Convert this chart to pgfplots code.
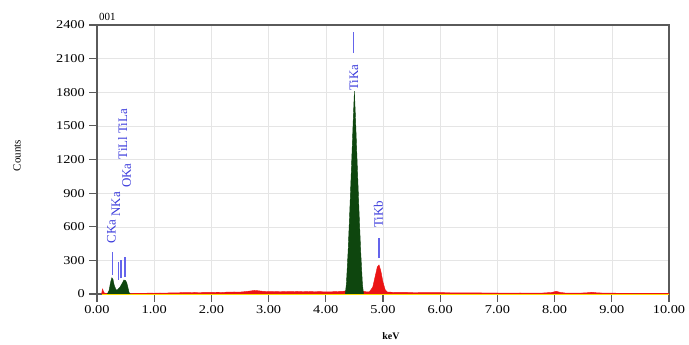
\documentclass[border=0pt]{standalone}
\usepackage{fontspec}
\setmainfont{Liberation Serif}
\usepackage{pgfplots}
\pgfplotsset{compat=1.18}
\definecolor{pkgreen}{RGB}{14,70,14}
\definecolor{bgred}{RGB}{235,20,20}
\definecolor{lblblue}{RGB}{60,60,220}
\definecolor{linblue}{RGB}{100,100,235}
\definecolor{axgray}{RGB}{90,90,90}
\begin{document}
\begin{tikzpicture}
\path[use as bounding box] (-97bp,-51bp) rectangle (592bp,294bp);
\begin{axis}[
  scale only axis, width=572bp, height=269bp,
  xmin=0, xmax=10, ymin=0, ymax=2400,
  xtick={0,1,...,10}, ytick={0,300,...,2400},
  xticklabels={0.00,1.00,2.00,3.00,4.00,5.00,6.00,7.00,8.00,9.00,10.00},
  /pgf/number format/assume math mode=true,
  /pgf/number format/.cd, 1000 sep={}, /pgfplots/.cd,
  tick label style={font=\fontsize{12}{14}\selectfont, xscale=1.2},
  grid=major, grid style={color=black!10, line width=0.5pt},
  tick style={color=axgray, line width=1.2pt},
  tick align=outside, major tick length=8bp,
  xtick pos=bottom, ytick pos=left,
  axis line style={color=axgray, line width=1.2pt},
  xlabel={\textbf{keV}}, ylabel={Counts},
  xlabel style={font=\fontsize{10}{12}\selectfont, at={(axis description cs:0.5,0)}, anchor=center, yshift=-42bp, xshift=8bp},
  ylabel style={font=\fontsize{11}{13}\selectfont, at={(axis description cs:0,0.5)}, anchor=center, xshift=4bp, yshift=80bp},
  clip=true,
]
% background (red)
\addplot[fill=bgred, draw=bgred, line width=0.4pt] coordinates {
(0.08,0)(0.09,30)(0.10,45)(0.11,25)(0.13,8)(0.20,4)(0.40,4)(0.60,4)(0.70,6)(0.80,5)(0.90,8)(1.00,7)
(1.10,9)(1.20,8)(1.30,11)(1.40,10)(1.50,13)(1.60,12)(1.70,14)(1.80,13)(1.90,15)(2.00,14)
(2.10,16)(2.20,15)(2.30,17)(2.40,18)(2.50,17)(2.60,22)(2.70,28)(2.75,32)(2.80,30)(2.90,24)
(3.00,21)(3.10,22)(3.20,20)(3.30,22)(3.40,21)(3.50,23)(3.60,20)(3.70,22)(3.80,20)(3.90,21)
(4.00,19)(4.10,20)(4.20,22)(4.30,24)(4.40,30)(4.60,30)(4.70,20)(4.76,18)(4.82,60)(4.86,150)
(4.90,240)(4.93,260)(4.96,210)(5.00,105)(5.04,35)(5.08,17)(5.20,15)(5.40,14)(5.60,13)
(5.80,12)(6.00,12)(6.20,11)(6.40,10)(6.60,10)(6.80,9)(7.00,9)(7.20,8)(7.40,9)(7.60,8)
(7.80,9)(7.95,14)(8.03,24)(8.10,14)(8.20,8)(8.40,8)(8.55,10)(8.65,16)(8.75,10)(8.90,8)
(9.10,7)(9.30,7)(9.50,6)(9.70,6)(9.90,5)(10.00,5)(10.00,0)} \closedcycle;
% peaks (green)
\addplot[fill=pkgreen, draw=pkgreen, line width=0.4pt] coordinates {
(0.18,0)(0.21,30)(0.24,110)(0.26,145)(0.28,130)(0.30,80)(0.33,40)(0.36,40)(0.40,60)
(0.44,95)(0.47,125)(0.50,120)(0.52,100)(0.54,60)(0.56,15)(0.58,0)} \closedcycle;
\addplot[fill=pkgreen, draw=pkgreen, line width=0.4pt] coordinates {
(4.34,0)(4.36,90)(4.39,380)(4.42,750)(4.45,1150)(4.48,1560)(4.50,1810)
(4.52,1560)(4.55,1150)(4.58,750)(4.61,380)(4.64,90)(4.66,0)} \closedcycle;
% baseline
\addplot[draw=yellow!80!orange, line width=0.8pt] coordinates {(0.08,0)(10,0)};
% line markers
\draw[linblue, line width=1.1pt] (axis cs:0.265,170) -- (axis cs:0.265,375);
\draw[linblue, line width=1.1pt] (axis cs:0.37,125) -- (axis cs:0.37,285);
\draw[linblue, line width=1.1pt] (axis cs:0.42,140) -- (axis cs:0.42,300);
\draw[linblue, line width=1.1pt] (axis cs:0.49,150) -- (axis cs:0.49,330);
\draw[linblue, line width=1.1pt] (axis cs:4.49,2150) -- (axis cs:4.49,2340);
\draw[linblue, line width=1.1pt] (axis cs:4.93,320) -- (axis cs:4.93,500);
% labels
\begin{scope}[every node/.style={font=\fontsize{13}{15}\selectfont, text=lblblue, rotate=90, anchor=west, inner sep=0pt}]
\node at (axis cs:0.25,450) {CKa};
\node at (axis cs:0.33,690) {NKa};
\node at (axis cs:0.52,945) {OKa};
\node at (axis cs:0.45,1200) {TiLl TiLa};
\node at (axis cs:4.49,1810) {TiKa};
\node at (axis cs:4.92,590) {TiKb};
\end{scope}
\end{axis}
\node[anchor=south west, inner sep=0pt, font=\fontsize{11}{13}\selectfont] at (2bp,273bp) {001};
\end{tikzpicture}
\end{document}
